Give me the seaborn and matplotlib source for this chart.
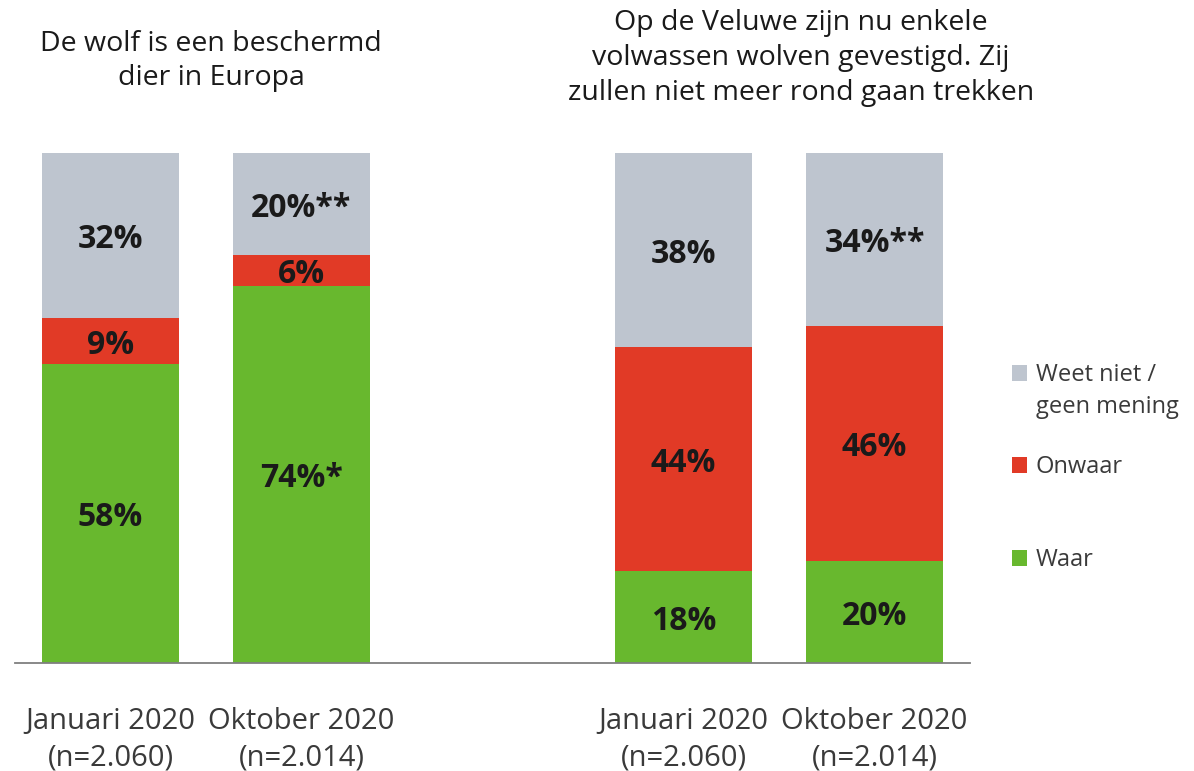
import numpy as np
import pandas as pd
import matplotlib
matplotlib.use("Agg")
import matplotlib.pyplot as plt
import seaborn as sns

# ---- data ----
periods = ["Januari 2020\n(n=2.060)", "Oktober 2020\n(n=2.014)",
           "Januari 2020\n(n=2.060)", "Oktober 2020\n(n=2.014)"]
positions = [0, 1, 3, 4]
waar = [58, 74, 18, 20]
onwaar = [9, 6, 44, 46]
weet_niet = [32, 20, 38, 34]
waar_labels = ["58%", "74%*", "18%", "20%"]
onwaar_labels = ["9%", "6%", "44%", "46%"]
weet_labels = ["32%", "20%**", "38%", "34%**"]
titles = ["De wolf is een beschermd\ndier in Europa",
          "Op de Veluwe zijn nu enkele\nvolwassen wolven gevestigd. Zij\nzullen niet meer rond gaan trekken"]
series_names = ["Weet niet /", "Onwaar", "Waar"]
series_extra = "geen mening"

GREY = "#BEC5CF"
RED = "#E13A26"
GREEN = "#68B82E"

sns.set_theme(style="white")
plt.rcParams['font.family'] = ['Open Sans', 'DejaVu Sans']

# 100% stacked heights
tot = np.array(waar) + np.array(onwaar) + np.array(weet_niet)
df = pd.DataFrame({
    "pos": positions,
    "waar": np.array(waar) / tot * 100,
    "onwaar": np.array(onwaar) / tot * 100,
    "weet": np.array(weet_niet) / tot * 100,
})

fig = plt.figure(figsize=(11.94, 7.71), dpi=100)
ax = fig.add_axes([15 / 1194, 1 - 663 / 771, 955 / 1194, 510 / 771])

W = 0.717
sns.barplot(data=df, x="pos", y="waar", native_scale=True, color=GREEN,
            saturation=1, width=W, errorbar=None, ax=ax, label=series_names[2], linewidth=0)
sns.barplot(data=df, x="pos", y="onwaar", native_scale=True, color=RED,
            saturation=1, width=W, errorbar=None, ax=ax, label=series_names[1],
            bottom=df["waar"].to_numpy(), linewidth=0)
sns.barplot(data=df, x="pos", y="weet", native_scale=True, color=GREY,
            saturation=1, width=W, errorbar=None, ax=ax, label=series_names[0],
            bottom=(df["waar"] + df["onwaar"]).to_numpy(), linewidth=0)

for cont, labs in zip(ax.containers, [waar_labels, onwaar_labels, weet_labels]):
    ax.bar_label(cont, labels=labs, label_type="center", fontsize=23, padding=-3,
                 fontweight="bold", color="#1a1a1a")

ax.set_xlim(-0.5, 4.5)
ax.set_ylim(0, 100)
ax.set_xlabel("")
ax.set_ylabel("")
ax.set_yticks([])
ax.set_xticks(positions)
ax.set_xticklabels(periods, fontsize=21, color="#3a3a3a", linespacing=1.3)
ax.tick_params(axis="x", length=0, pad=32)
for s in ["top", "left", "right"]:
    ax.spines[s].set_visible(False)
ax.spines["bottom"].set_color("#7f7f7f")
ax.spines["bottom"].set_linewidth(1.3)

fig.text(211 / 1194, 1 - 61 / 771, titles[0], ha="center", va="center",
         fontsize=20.5, color="#1a1a1a", linespacing=1.25)
fig.text(801 / 1194, 1 - 58 / 771, titles[1], ha="center", va="center",
         fontsize=20.5, color="#1a1a1a", linespacing=1.32)

handles, labels = ax.get_legend_handles_labels()
order = [labels.index(n) for n in series_names]
leg = ax.legend([handles[i] for i in order], [labels[i] for i in order],
                loc="upper left", bbox_to_anchor=(1012 / 1194, 1 - 363 / 771),
                bbox_transform=fig.transFigure, frameon=False, fontsize=17,
                handlelength=0.65, handleheight=0.65, handletextpad=0.35,
                labelspacing=2.9, borderpad=0, borderaxespad=0)
for t in leg.get_texts():
    t.set_color("#3a3a3a")

# second line of the first legend label, hanging below it
fig.canvas.draw()
t0 = leg.get_texts()[0]
bx, by = t0.get_transform().transform(t0.get_position())
fig.text(bx / fig.bbox.width, (by - 32) / fig.bbox.height, series_extra,
         ha="left", va="baseline", fontsize=17, color="#3a3a3a")

fig.savefig("out.png", dpi=100)
